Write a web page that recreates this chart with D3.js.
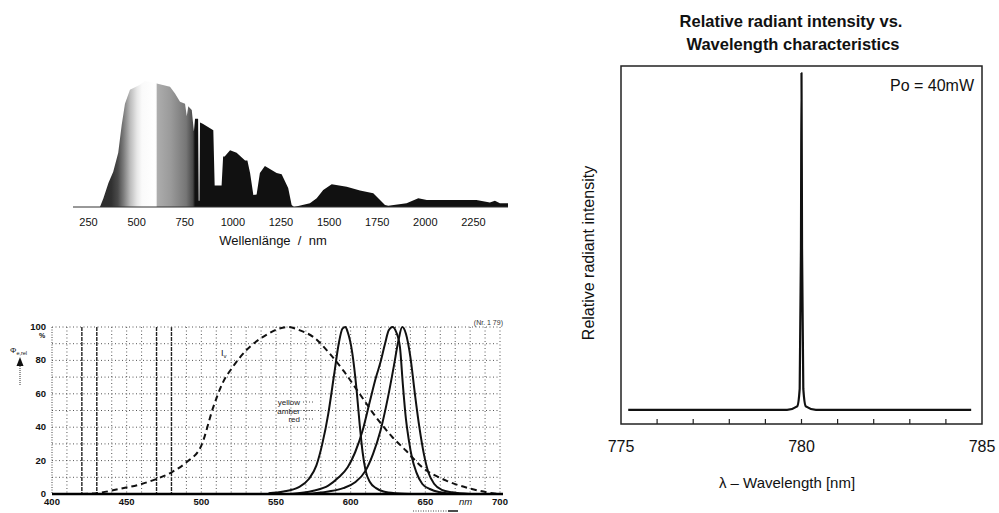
<!DOCTYPE html>
<html>
<head>
<meta charset="utf-8">
<script src="https://cdn.jsdelivr.net/npm/d3@7"></script>
<style>
  html, body { margin: 0; padding: 0; background: #fff; }
  svg { display: block; font-family: "Liberation Sans", Arial, sans-serif; }
</style>
</head>
<body>
<svg id="chart" width="999" height="513"></svg>
<script>
// Three spectra on one sheet: solar spectrum (top left), LED spectra with
// the eye sensitivity curve (bottom left), laser diode line (right).

// solar spectrum, relative to the visible maximum
const solarNm = [172, 312, 330, 356, 381, 407, 425, 442, 468, 520, 546, 607, 676, 702, 728, 754, 763, 771, 789, 800,
  806, 822, 825, 829, 832, 846, 901, 908, 944, 952, 960, 988, 1022, 1066, 1078, 1092, 1109, 1126, 1143, 1169,
  1230, 1256, 1290, 1308, 1320, 1403, 1438, 1472, 1516, 1594, 1663, 1732, 1793, 1810, 1905, 1966, 2010, 2268, 2338, 2364,
  2390, 2432];
const solarRel = [0, 0, 0.07, 0.19, 0.28, 0.43, 0.65, 0.82, 0.93, 0.97, 1.0, 0.98, 0.955, 0.90, 0.835, 0.82, 0.72, 0.80, 0.77, 0.60,
  0.70, 0.70, 0.05, 0.05, 0.67, 0.66, 0.61, 0.17, 0.17, 0.40, 0.40, 0.45, 0.43, 0.37, 0.37, 0.27, 0.095, 0.10, 0.27, 0.325,
  0.27, 0.26, 0.15, 0.015, 0, 0.03, 0.07, 0.135, 0.18, 0.16, 0.13, 0.11, 0.015, 0.01, 0.03, 0.07, 0.055, 0.055, 0.035, 0.05,
  0.03, 0.03];
const solarTicks = [250, 500, 750, 1000, 1250, 1500, 1750, 2000, 2250];

// LED spectra, percent of each peak
const ledTicks = [400, 450, 500, 550, 600, 650, 700];
const ledPctTicks = [0, 20, 40, 60, 80, 100];
const vLambdaNm = [400, 420, 430, 445, 460, 470, 480, 490, 500, 508, 514, 521, 530, 543, 552, 558, 566, 575, 586, 595,
  606, 617, 628, 637, 648, 664, 679, 695, 700];
const vLambdaPct = [0, 0, 0.5, 3, 6, 9, 13, 19, 29, 52, 66, 76, 86, 95, 99, 100, 98, 94, 84, 74,
  60, 46, 34, 26, 16, 8, 3.5, 0.5, 0];
const yellowNm = [545, 555, 565, 572, 577, 581, 585, 589, 592, 594.5, 596.5, 598, 601, 604, 606, 608, 610, 613, 617, 622, 630, 645];
const yellowPct = [0.5, 1.5, 4, 9, 17, 30, 48, 72, 90, 99, 100, 97, 85, 62, 42, 25, 14, 7, 3.5, 1.5, 0.5, 0];
const amberNm = [560, 575, 585, 592, 598, 603, 608, 613, 617, 620, 623, 625.5, 628, 630.5, 633, 635, 637, 639, 641, 644, 648, 653, 660, 670];
const amberPct = [0, 2, 5, 10, 16, 25, 38, 56, 70, 79, 90, 98, 100, 97, 88, 65, 45, 32, 22, 13, 6, 3, 1, 0];
const redNm = [570, 585, 595, 603, 610, 615, 620, 625, 629, 632, 634.5, 637, 640, 643, 646, 649, 652, 656, 661, 668, 680];
const redPct = [0, 1.5, 3.5, 7, 14, 24, 38, 58, 77, 92, 100, 96, 82, 60, 40, 24, 13, 6, 2.5, 1, 0];
const ledLegend = ['yellow', 'amber', 'red'];

// laser diode line, relative intensity
const laserNm = [775.2, 779.6, 779.88, 779.95, 779.985, 780.0, 780.015, 780.05, 780.12, 780.4, 784.7];
const laserRel = [0.04, 0.04, 0.05, 0.1, 0.5, 1.0, 0.5, 0.1, 0.05, 0.04, 0.04];
const laserTicks = [775, 780, 785];

const svg = d3.select('#chart');
const defs = svg.append('defs');

// ---------- solar spectrum ----------
const sx = d3.scaleLinear().domain([172, 2432]).range([73, 508]);
const sy = d3.scaleLinear().domain([0, 1]).range([207, 81]);

// shading: dark violet end, white around green, grey red, black infrared
const shade = [[172, '#2a2a2a'], [370, '#303030'], [405, '#4a4a4a'], [435, '#7c7c7c'], [470, '#bdbdbd'], [505, '#e8e8e8'],
  [530, '#fafafa'], [600, '#fff'], [605, '#f0f0f0'], [609, '#adadad'], [680, '#9a9a9a'], [760, '#767676'],
  [795, '#484848'], [806, '#111'], [2432, '#111']];
const grad = defs.append('linearGradient').attr('id', 'solarFill')
  .attr('gradientUnits', 'userSpaceOnUse')
  .attr('x1', sx(172)).attr('x2', sx(2432)).attr('y1', 0).attr('y2', 0);
grad.selectAll('stop').data(shade).join('stop')
  .attr('offset', d => (d[0] - 172) / (2432 - 172))
  .attr('stop-color', d => d[1]);

const solar = solarNm.map((n, i) => [n, solarRel[i]]);
svg.append('path')
  .datum(solar)
  .attr('fill', 'url(#solarFill)')
  .attr('d', d3.area().x(d => sx(d[0])).y0(sy(0)).y1(d => sy(d[1])));

svg.append('line')
  .attr('x1', sx(172)).attr('x2', sx(2432)).attr('y1', sy(0)).attr('y2', sy(0))
  .attr('stroke', '#333').attr('stroke-width', 1);

const sAxis = svg.append('g').attr('transform', `translate(0,${sy(0)})`)
  .call(d3.axisBottom(sx).tickValues(solarTicks).tickFormat(d3.format('d')).tickSize(0).tickPadding(11));
sAxis.select('.domain').remove();
sAxis.selectAll('text').attr('font-size', 11).attr('fill', '#111')
  .attr('font-family', '"Liberation Sans", Arial, sans-serif');

svg.append('text')
  .attr('x', 273).attr('y', 245).attr('text-anchor', 'middle')
  .attr('font-size', 13).attr('fill', '#111')
  .style('white-space', 'pre')
  .text('Wellenlänge  /  nm');

// ---------- LED spectra ----------
const lx = d3.scaleLinear().domain([400, 700]).range([52, 500]);
const ly = d3.scaleLinear().domain([0, 100]).range([494, 327]);

const grid = svg.append('g');
const heavy = [420, 430, 470, 480];
grid.selectAll('line.v').data(d3.range(410, 700, 10)).join('line')
  .attr('x1', d => lx(d)).attr('x2', d => lx(d)).attr('y1', ly(100)).attr('y2', ly(0))
  .attr('stroke', d => heavy.includes(d) ? '#222' : '#555')
  .attr('stroke-width', d => heavy.includes(d) ? 1.4 : 1)
  .attr('stroke-dasharray', d => heavy.includes(d) ? '4,1' : '1,2.5');
grid.selectAll('line.h').data(d3.range(10, 101, 10)).join('line')
  .attr('x1', lx(400)).attr('x2', lx(700)).attr('y1', d => ly(d)).attr('y2', d => ly(d))
  .attr('stroke', '#555').attr('stroke-width', 1).attr('stroke-dasharray', '1,2.5');
grid.append('line')
  .attr('x1', lx(400)).attr('x2', lx(400)).attr('y1', ly(100)).attr('y2', ly(0))
  .attr('stroke', '#444').attr('stroke-dasharray', '1,1.5');
grid.append('line')
  .attr('x1', lx(700)).attr('x2', lx(700)).attr('y1', ly(100)).attr('y2', ly(0))
  .attr('stroke', '#555').attr('stroke-dasharray', '1,2.5');

defs.append('clipPath').attr('id', 'ledClip').append('rect')
  .attr('x', lx(400)).attr('y', ly(100) - 4).attr('width', lx(700) - lx(400)).attr('height', ly(0) - ly(100) + 4);

const ledLine = d3.line().x(d => lx(d[0])).y(d => ly(d[1])).curve(d3.curveMonotoneX);
const curves = svg.append('g').attr('clip-path', 'url(#ledClip)');
curves.append('path')
  .datum(vLambdaNm.map((n, i) => [n, vLambdaPct[i]]))
  .attr('fill', 'none').attr('stroke', '#111').attr('stroke-width', 2)
  .attr('stroke-dasharray', '6,4')
  .attr('d', ledLine);
[[yellowNm, yellowPct], [amberNm, amberPct], [redNm, redPct]].forEach(([nm, pct]) => {
  curves.append('path')
    .datum(nm.map((n, i) => [n, pct[i]]))
    .attr('fill', 'none').attr('stroke', '#111').attr('stroke-width', 2)
    .attr('d', ledLine);
});

// bottom axis
svg.append('line')
  .attr('x1', lx(400)).attr('x2', lx(700) + 3).attr('y1', ly(0)).attr('y2', ly(0))
  .attr('stroke', '#000').attr('stroke-width', 2.5);

const ledFont = 9.5;
svg.append('g').selectAll('text').data(ledTicks).join('text')
  .attr('x', d => lx(d)).attr('y', ly(0) + 11).attr('text-anchor', 'middle')
  .attr('font-size', ledFont).attr('font-weight', 'bold').attr('fill', '#111')
  .text(d => d);
svg.append('text')
  .attr('x', lx(677)).attr('y', ly(0) + 11).attr('text-anchor', 'middle')
  .attr('font-size', ledFont).attr('font-style', 'italic').attr('fill', '#111')
  .text('nm');
svg.append('g').selectAll('text').data(ledPctTicks).join('text')
  .attr('x', 46).attr('y', d => ly(d) + 3).attr('text-anchor', 'end')
  .attr('font-size', ledFont).attr('font-weight', 'bold').attr('fill', '#111')
  .text(d => d);
svg.append('text')
  .attr('x', 42).attr('y', ly(100) + 11).attr('text-anchor', 'middle')
  .attr('font-size', 7).attr('font-weight', 'bold').attr('fill', '#111')
  .text('%');

// y quantity with arrow
const yq = svg.append('text').attr('x', 10).attr('y', 353).attr('font-size', 8).attr('fill', '#111');
yq.append('tspan').text('Φ');
yq.append('tspan').attr('font-size', 5.5).attr('dy', 2).text('e,rel');
svg.append('line')
  .attr('x1', 20).attr('x2', 20).attr('y1', 385).attr('y2', 362)
  .attr('stroke', '#333').attr('stroke-width', 1).attr('stroke-dasharray', '1,1');
svg.append('path')
  .attr('d', 'M16.5,366 L20,357 L23.5,366 Z').attr('fill', '#111');

// x direction arrow under the axis
svg.append('line')
  .attr('x1', 413).attr('x2', 448).attr('y1', 511).attr('y2', 511)
  .attr('stroke', '#444').attr('stroke-dasharray', '1,1.5');
svg.append('line')
  .attr('x1', 448).attr('x2', 458).attr('y1', 511).attr('y2', 511)
  .attr('stroke', '#111').attr('stroke-width', 1.5);

// curve labels
const vl = svg.append('text').attr('x', 221).attr('y', 356).attr('font-size', 9).attr('fill', '#111');
vl.append('tspan').text('I');
vl.append('tspan').attr('font-size', 6).attr('dy', 2).text('v');

const legend = svg.append('g');
legend.selectAll('text').data(ledLegend).join('text')
  .attr('x', 300).attr('y', (d, i) => 405 + i * 8.5).attr('text-anchor', 'end')
  .attr('font-size', 8).attr('fill', '#222')
  .text(d => d);
legend.selectAll('line').data(ledLegend).join('line')
  .attr('x1', 303).attr('x2', 314).attr('y1', (d, i) => 402 + i * 8.5).attr('y2', (d, i) => 402 + i * 8.5)
  .attr('stroke', '#555').attr('stroke-dasharray', '1,2');

svg.append('text')
  .attr('x', 503).attr('y', 325).attr('text-anchor', 'end')
  .attr('font-size', 7).attr('fill', '#333')
  .text('(Nr. 1 79)');

// ---------- laser diode ----------
const px = d3.scaleLinear().domain([775, 785]).range([621, 982]);
const py = d3.scaleLinear().domain([0, 1.02]).range([424, 66]);

svg.append('text')
  .attr('x', 791).attr('y', 27).attr('text-anchor', 'middle')
  .attr('font-size', 16.5).attr('font-weight', 'bold').attr('fill', '#111')
  .text('Relative radiant intensity vs.');
svg.append('text')
  .attr('x', 793).attr('y', 50).attr('text-anchor', 'middle')
  .attr('font-size', 16.5).attr('font-weight', 'bold').attr('fill', '#111')
  .text('Wavelength characteristics');

svg.append('rect')
  .attr('x', px(775)).attr('y', py(1.02))
  .attr('width', px(785) - px(775)).attr('height', py(0) - py(1.02))
  .attr('fill', 'none').attr('stroke', '#222').attr('stroke-width', 1.5);

svg.append('g').selectAll('line').data(d3.range(776, 785)).join('line')
  .attr('x1', d => px(d)).attr('x2', d => px(d)).attr('y1', py(0)).attr('y2', py(0) - 5)
  .attr('stroke', '#222').attr('stroke-width', 1.2);

svg.append('g').selectAll('text').data(laserTicks).join('text')
  .attr('x', d => px(d)).attr('y', 452).attr('text-anchor', 'middle')
  .attr('font-size', 16).attr('fill', '#111')
  .text(d => d);

svg.append('path')
  .datum(laserNm.map((n, i) => [n, laserRel[i]]))
  .attr('fill', 'none').attr('stroke', '#111').attr('stroke-width', 2.2)
  .attr('stroke-linejoin', 'round')
  .attr('d', d3.line().x(d => px(d[0])).y(d => py(d[1])).curve(d3.curveMonotoneX));

svg.append('text')
  .attr('x', 974).attr('y', 91).attr('text-anchor', 'end')
  .attr('font-size', 16).attr('fill', '#111')
  .text('Po = 40mW');

svg.append('text')
  .attr('transform', 'translate(594,253) rotate(-90)')
  .attr('text-anchor', 'middle')
  .attr('font-size', 16).attr('fill', '#111')
  .text('Relative radiant intensity');

svg.append('text')
  .attr('x', 787).attr('y', 488).attr('text-anchor', 'middle')
  .attr('font-size', 15).attr('fill', '#111')
  .text('λ – Wavelength [nm]');
</script>
</body>
</html>
